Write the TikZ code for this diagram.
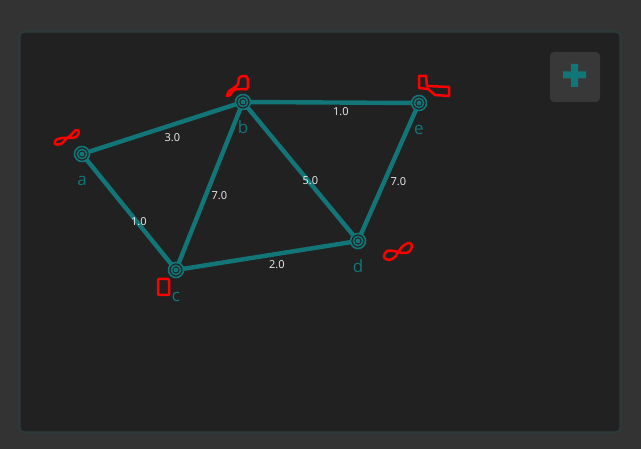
\documentclass[tikz,border=0pt]{standalone}
\usepackage{fontspec}
\setmainfont{Open Sans}
\usepackage{tkz-euclide}
\definecolor{bgout}{RGB}{51,51,51}
\definecolor{panel}{RGB}{33,33,33}
\definecolor{glow}{RGB}{44,60,60}
\definecolor{btn}{RGB}{56,56,56}
\definecolor{edge}{RGB}{18,118,120}
\definecolor{scrib}{RGB}{255,0,0}
\tikzset{
  wire/.style={color=edge,line width=4.4pt,line cap=round},
  ring/.style={draw=edge,line width=1.6pt,fill=panel},
  elabel/.style={anchor=north west,inner sep=2pt,yshift=-3pt,text=white!94!black,font=\fontsize{11}{12}\selectfont},
  vlabel/.style={anchor=base,yshift=-32pt,text=edge,font=\fontsize{17}{19}\selectfont},
  scribble/.style={draw=scrib,line width=2.5pt,line join=round,line cap=round}
}
\begin{document}
\begin{tikzpicture}[x=1pt,y=-1pt]
                    \useasboundingbox (0,0) rectangle (641,449);
                    \fill[bgout] (0,0) rectangle (641,449);
                    \draw[glow!60!bgout,line width=4pt,rounded corners=5pt] (20,32) rectangle (620,432);
                    \filldraw[fill=panel,draw=glow,line width=1.2pt,rounded corners=4pt] (20,32) rectangle (620,432);
                    \fill[btn,rounded corners=4pt] (550,52) rectangle (600,102);
                    \fill[edge] (563,71.5) rectangle (586,78.5) (571,64) rectangle (578,87);
                    \tkzDefPoints{82/154/a,243/102/b,176/270/c,358/241/d,419/103/e}
                    \tkzDrawSegments[wire](a,b b,e a,c b,c b,d e,d c,d)
                    \path (a) -- (b) node[midway,elabel] (lab) {3.0};
                    \path (b) -- (e) node[midway,elabel] (lbe) {1.0};
                    \path (b) -- (c) node[midway,elabel] (lbc) {7.0};
                    \path (b) -- (d) node[midway,elabel] (lbd) {5.0};
                    \path (e) -- (d) node[midway,elabel] (led) {7.0};
                    \path (a) -- (c) node[midway,elabel] (lac) {1.0};
                    \path (c) -- (d) node[midway,elabel] (lcd) {2.0};
                    \foreach \p in {a,b,c,d,e}{
                      \draw[ring] (\p) circle (7.5pt) (\p) circle (4.6pt);
                      \fill[edge] (\p) circle (2.4pt);
                      \node[vlabel] (t\p) at (\p) {\p};
                    }
                    %\tkzDrawPoints(a,b,c,d,e)
                    \draw[scribble] plot[smooth,tension=0.6] coordinates {(66,139) (71,135) (76,130) (79,132) (76,137) (69,138) (62,138) (56,140) (55,144) (61,144) (66,139)};
                    \draw[scribble] plot[smooth,tension=0.5] coordinates {(227,96) (229,91) (234,88) (238,84) (239,78) (243,76) (247,77) (248,84) (247,89) (240,89) (234,90) (230,95) (227,96)};
                    \draw[scribble] (419,76) -- (426,76) -- (427,86) -- (449,87) -- (449,96) -- (435,95) -- (428,89) -- (419,88) -- cycle;
                    \draw[scribble,rounded corners=1pt] (158,279) rectangle (169,295);
                    \draw[scribble] plot[smooth,tension=0.6] coordinates {(398,252) (403,246) (409,243) (412,246) (409,252) (402,253) (394,251) (387,251) (384,257) (389,260) (395,257) (398,252)};
                \end{tikzpicture}
\end{document}
